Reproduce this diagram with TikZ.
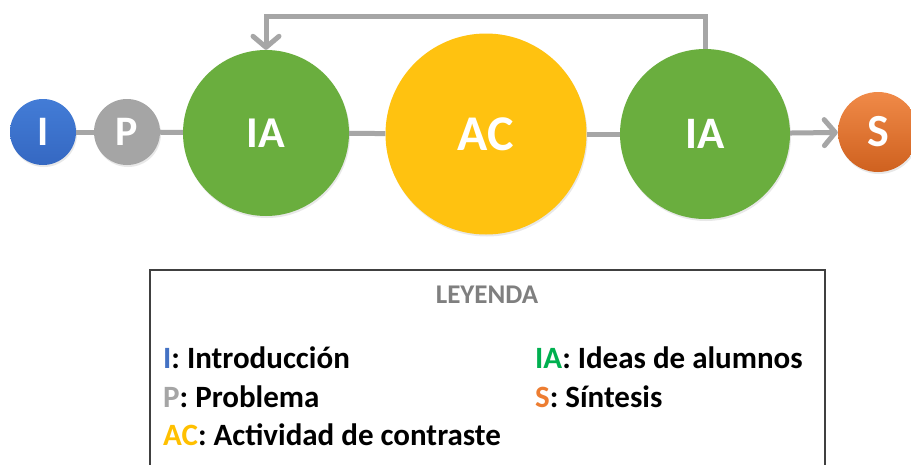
\documentclass[tikz,border=0pt]{standalone}
\usepackage{fontspec}
\setmainfont{Carlito}
\usetikzlibrary{arrows.meta,shadows}
\definecolor{cblue}{HTML}{3568C2}
\definecolor{cbluetop}{HTML}{437CD6}
\definecolor{cgray}{HTML}{A5A5A5}
\definecolor{cgreen}{HTML}{6AAE3E}
\definecolor{cgold}{HTML}{FFC210}
\definecolor{corangetop}{HTML}{F08A48}
\definecolor{corange}{HTML}{CF611F}
\definecolor{lnk}{HTML}{A6A6A6}
\definecolor{lblue}{HTML}{4472C4}
\definecolor{lgreen}{HTML}{00B050}
\definecolor{lorange}{HTML}{ED7D31}
\definecolor{lgold}{HTML}{FFC000}
\definecolor{lgray}{HTML}{7F7F7F}
\begin{document}
\begin{tikzpicture}[x=1pt,y=-1pt,
  circ/.style={circle,inner sep=0pt,text=white,font=\bfseries,
    drop shadow={opacity=0.18,shadow xshift=1pt,shadow yshift=-2pt}},
  link/.style={draw=lnk,line width=5pt},
  tip/.style={-{Straight Barb[length=11pt,width=26pt,line cap=round,line join=round]}},
  entry/.style={anchor=base west,inner sep=0pt,font=\fontsize{31}{31}\selectfont\bfseries}
]
\useasboundingbox (0,0) rectangle (911,464);
\fill[white] (0,0) rectangle (911,464);
% circles
\node[circ,minimum size=66pt,top color=cbluetop,bottom color=cblue,font=\fontsize{42}{42}\selectfont\bfseries] (i) at (43,132) {I};
\node[circ,minimum size=66pt,fill=cgray,font=\fontsize{42}{42}\selectfont\bfseries] (p) at (127,132) {P};
\node[circ,minimum size=166pt,fill=cgreen,font=\fontsize{44}{44}\selectfont\bfseries] (ia1) at (266,133) {IA};
\node[circ,minimum size=201pt,fill=cgold,font=\fontsize{50}{50}\selectfont\bfseries] (ac) at (486,134) {AC};
\node[circ,minimum size=170pt,fill=cgreen,font=\fontsize{45}{45}\selectfont\bfseries] (ia2) at (705,134) {IA};
\node[circ,minimum size=80pt,top color=corangetop,bottom color=corange,font=\fontsize{46}{46}\selectfont\bfseries] (s) at (878,132) {S};
% connectors
\draw[link] (i) -- (p);
\draw[link] (p) -- (ia1);
\draw[link] (ia1) -- (ac);
\draw[link] (ac) -- (ia2);
\draw[link,tip] (ia2) -- (s);
\coordinate (fb) at (266,16);
\draw[link,tip] (ia2.north) |- (fb) -- (ia1.north);
% legend
\node[draw=black!75,line width=1.5pt,minimum width=675pt,minimum height=210pt,anchor=north west,inner sep=0pt] (box) at (149,269) {};
\node[anchor=base,inner sep=0pt,text=lgray,font=\fontsize{27}{27}\selectfont\bfseries] (ley) at (487,303) {LEYENDA};
\node[entry] (e1) at (163,368) {\textcolor{lblue}{I}: Introducción};
\node[entry] (e2) at (163,407) {\textcolor{cgray}{P}: Problema};
\node[entry] (e3) at (163,445) {\textcolor{lgold}{AC}: Actividad de contraste};
\node[entry] (e4) at (535,368) {\textcolor{lgreen}{IA}: Ideas de alumnos};
\node[entry] (e5) at (535,407) {\textcolor{lorange}{S}: Síntesis};
\end{tikzpicture}
\end{document}
